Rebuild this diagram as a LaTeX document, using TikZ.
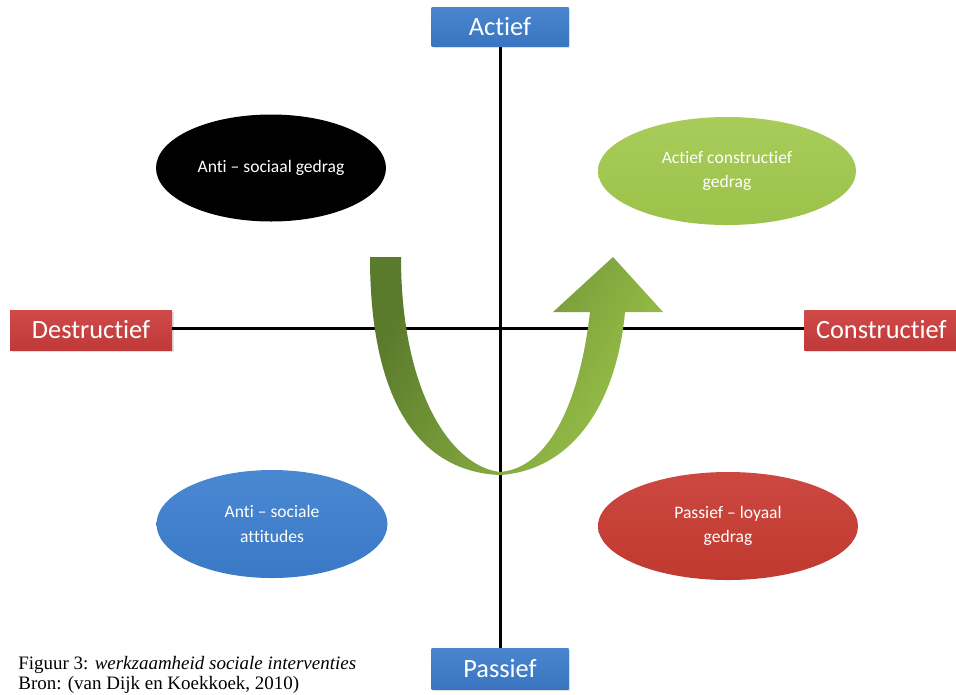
\documentclass[tikz,border=0pt]{standalone}
\usepackage{fontspec}
\setmainfont{Liberation Serif}
\newfontfamily\calfont[Ligatures={NoCommon}]{Carlito}
\usetikzlibrary{shapes.geometric,shadows}
\definecolor{boxblue}{HTML}{3A74C0}
\definecolor{boxblueT}{HTML}{4A86D0}
\definecolor{boxred}{HTML}{C0393A}
\definecolor{boxredT}{HTML}{D04A48}
\definecolor{elgreen}{HTML}{9BC24A}
\definecolor{elgreenT}{HTML}{A8CC5A}
\definecolor{elblue}{HTML}{3A79C6}
\definecolor{elblueT}{HTML}{4A88D2}
\definecolor{elred}{HTML}{C0392F}
\definecolor{elredT}{HTML}{CC4840}
\definecolor{arrdark}{HTML}{5A7A2C}
\definecolor{arrmid}{HTML}{7BA23A}
\definecolor{arrlight}{HTML}{9CC44A}
\newdimen\pxu
\pxu=0.02cm
\tikzset{
  axisbox/.style={draw=none, minimum height=39\pxu, text=white, inner sep=1pt, font=\calfont\fontsize{15}{17}\selectfont,
    drop shadow={opacity=0.25, shadow xshift=1pt, shadow yshift=-1pt}},
  bluebox/.style={axisbox, top color=boxblueT, bottom color=boxblue},
  redbox/.style={axisbox, top color=boxredT, bottom color=boxred},
  oval/.style={ellipse, draw=none, text=white, align=center, inner sep=1pt, font=\calfont\fontsize{10}{14}\selectfont},
  axisline/.style={line width=1.7pt, black}
}
\begin{document}
\begin{tikzpicture}[x=0.02cm, y=-0.02cm]
\useasboundingbox (0,0) rectangle (956,694);
% axis boxes
\node[bluebox, minimum width=137\pxu] (actief) at (500,27) {Actief};
\node[bluebox, minimum width=137\pxu, minimum height=41\pxu] (passief) at (500,669) {Passief};
\node[redbox, minimum width=162\pxu, minimum height=40\pxu] (destr) at (91,330) {Destructief};
\node[redbox, minimum width=154\pxu, minimum height=40\pxu, anchor=west] (constr) at (804,330) {Constructief};
% axes
\draw[axisline] (actief.south) -- (passief.north);
\draw[axisline] (destr.east |- 0,328) -- (constr.west |- 0,328);
% ellipses
\node[oval, fill=black, minimum width=230\pxu, minimum height=107\pxu] (anti) at (271,168) {Anti – sociaal gedrag};
\node[oval, top color=elgreenT, bottom color=elgreen, minimum width=258\pxu, minimum height=108\pxu] (actcon) at (727,171) {Actief constructief\\gedrag};
\node[oval, top color=elblueT, bottom color=elblue, minimum width=231\pxu, minimum height=108\pxu] (antiatt) at (272,524) {Anti – sociale\\attitudes};
\node[oval, top color=elredT, bottom color=elred, minimum width=260\pxu, minimum height=108\pxu] (passloy) at (728,526) {Passief – loyaal\\gedrag};
% U-turn arrow
\coordinate (tl) at (370,257);
\coordinate (tr) at (401,257);
\coordinate (bot) at (500,475);
\path[left color=arrdark, middle color=arrmid, right color=arrlight, shading angle=60]
  (tl) .. controls (370,410) and (425,472) .. (bot)
  .. controls (575,470) and (617,400) .. (625,312)
  -- (663,312) -- (613,257) -- (553,312) -- (590,312)
  .. controls (580,400) and (550,468) .. (500,472)
  .. controls (450,466) and (401,390) .. (tr) -- cycle;
% caption
\node[anchor=north west, align=left, inner sep=0pt, font=\fontsize{10.8}{11.4}\selectfont] (cap) at (18,656)
  {Figuur 3: \textit{werkzaamheid sociale interventies}\\Bron: (van Dijk en Koekkoek, 2010)};
\end{tikzpicture}
\end{document}
